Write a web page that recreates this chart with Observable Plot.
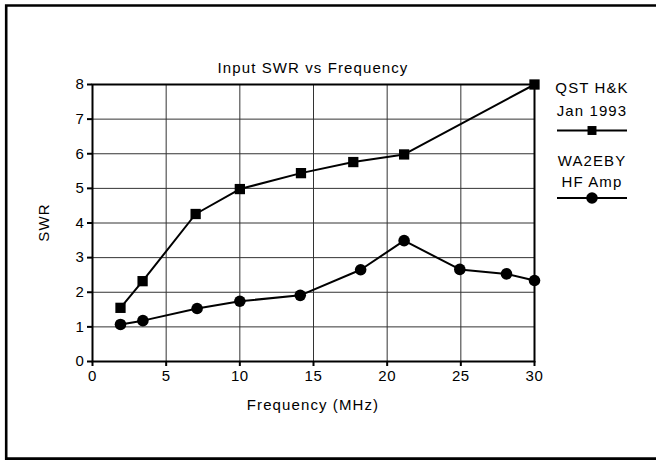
<!DOCTYPE html>
<html>
<head>
<meta charset="utf-8">
<script src="https://cdn.jsdelivr.net/npm/d3@7"></script>
<script src="https://cdn.jsdelivr.net/npm/@observablehq/plot@0.6"></script>
<style>
  html, body { margin: 0; padding: 0; background: #fff; }
  svg { display: block; }
</style>
</head>
<body>
<div id="chart"></div>
<script>
const titleText = "Input SWR vs Frequency";
const xLabel = "Frequency (MHz)";
const yLabel = "SWR";
const xTicks = [0, 5, 10, 15, 20, 25, 30];
const yTicks = [0, 1, 2, 3, 4, 5, 6, 7, 8];

const seriesNames = [["QST H&K", "Jan 1993"], ["WA2EBY", "HF Amp"]];
const freqQST = [1.9, 3.4, 7.0, 10.0, 14.15, 17.7, 21.15, 30];
const swrQST  = [1.55, 2.32, 4.26, 4.98, 5.44, 5.76, 5.98, 8.0];
const freqWA  = [1.9, 3.42, 7.1, 10.0, 14.1, 18.2, 21.15, 24.93, 28.1, 30];
const swrWA   = [1.07, 1.18, 1.53, 1.74, 1.91, 2.65, 3.49, 2.66, 2.53, 2.34];

const qst = freqQST.map((f, i) => ({f, swr: swrQST[i]}));
const wa = freqWA.map((f, i) => ({f, swr: swrWA[i]}));

const FONT = "'Liberation Sans', Arial, sans-serif";
const LS = "1.1px";

const plot = Plot.plot({
  width: 656,
  height: 461,
  marginLeft: 92,
  marginRight: 122,
  marginTop: 84,
  marginBottom: 100,
  style: {fontFamily: FONT, fontSize: "15px", color: "#000", background: "#fff", letterSpacing: "0.6px"},
  x: {domain: [0, 30], ticks: xTicks},
  y: {domain: [0, 8], ticks: yTicks},
  marks: [
    Plot.gridX(xTicks, {stroke: "#333", strokeOpacity: 1, strokeWidth: 1}),
    Plot.gridY(yTicks, {stroke: "#333", strokeOpacity: 1, strokeWidth: 1}),
    Plot.frame({stroke: "#000", strokeWidth: 2}),
    Plot.axisX(xTicks, {tickSize: 5, tickPadding: 4, strokeWidth: 2, label: null, fontSize: 15}),
    Plot.axisY(yTicks, {tickSize: 5, tickPadding: 3, strokeWidth: 2, label: null, fontSize: 15}),
    Plot.line(qst, {x: "f", y: "swr", stroke: "#000", strokeWidth: 2}),
    Plot.dot(qst, {x: "f", y: "swr", symbol: "square", r: 5.8, fill: "#000", stroke: "none"}),
    Plot.line(wa, {x: "f", y: "swr", stroke: "#000", strokeWidth: 2}),
    Plot.dot(wa, {x: "f", y: "swr", symbol: "circle", r: 5.8, fill: "#000", stroke: "none"})
  ]
});

document.getElementById("chart").appendChild(plot);

const svg = d3.select(plot);
const sx = plot.scale("x"), sy = plot.scale("y");
const cx = (sx.range[0] + sx.range[1]) / 2;

// outer frame
svg.append("path")
  .attr("d", "M 6.2 460 L 6.2 5.5 L 660 5.5 M 6.2 458.6 L 660 458.6")
  .attr("fill", "none").attr("stroke", "#000").attr("stroke-width", 2.6);

function label(x, y, txt) {
  return svg.append("text").attr("x", x).attr("y", y)
    .attr("text-anchor", "middle").attr("font-family", FONT).attr("font-size", 15)
    .attr("letter-spacing", LS).attr("fill", "#000").text(txt);
}

// title
label(cx, 73, titleText);
// x label
label(cx, 410, xLabel);
// y label
svg.append("text")
  .attr("transform", `translate(49, ${(sy.range[0] + sy.range[1]) / 2}) rotate(-90)`)
  .attr("text-anchor", "middle").attr("font-family", FONT).attr("font-size", 15)
  .attr("letter-spacing", LS).text(yLabel);

// legend
const lx = 592;
const legendY = [[93, 116, 130.5], [166, 187, 198]];
const symbols = [d3.symbolSquare, d3.symbolCircle];
const symSize = [80, 105];
seriesNames.forEach((names, i) => {
  const [y1, y2, yl] = legendY[i];
  label(lx, y1, names[0]);
  label(lx, y2, names[1]);
  svg.append("line").attr("x1", lx - 35).attr("x2", lx + 35).attr("y1", yl).attr("y2", yl)
    .attr("stroke", "#000").attr("stroke-width", 2);
  svg.append("path").attr("transform", `translate(${lx},${yl})`)
    .attr("d", d3.symbol(symbols[i], symSize[i])()).attr("fill", "#000");
});
</script>
</body>
</html>
